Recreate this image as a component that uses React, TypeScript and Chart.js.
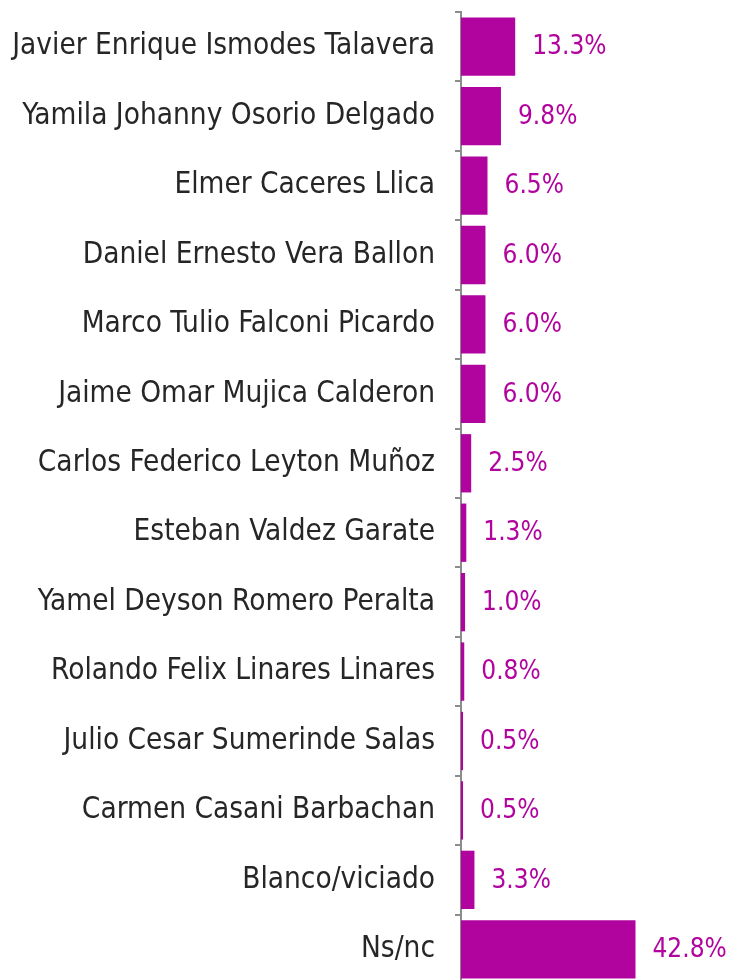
import React, { useEffect, useRef } from "react";
import { Chart, registerables } from "chart.js";

Chart.register(...registerables);

const categories = [
  "Javier Enrique Ismodes Talavera",
  "Yamila Johanny Osorio Delgado",
  "Elmer Caceres Llica",
  "Daniel Ernesto Vera Ballon",
  "Marco Tulio Falconi Picardo",
  "Jaime Omar Mujica Calderon",
  "Carlos Federico Leyton Muñoz",
  "Esteban Valdez Garate",
  "Yamel Deyson Romero Peralta",
  "Rolando Felix Linares Linares",
  "Julio Cesar Sumerinde Salas",
  "Carmen Casani Barbachan",
  "Blanco/viciado",
  "Ns/nc",
];

const values = [13.3, 9.8, 6.5, 6.0, 6.0, 6.0, 2.5, 1.3, 1.0, 0.8, 0.5, 0.5, 3.3, 42.8];

const BAR_COLOR = "#B1049F";
const FONT = "'DejaVu Sans Condensed', 'DejaVu Sans', sans-serif";

const valueLabels = {
  id: "valueLabels",
  afterDatasetsDraw(chart: any) {
    const ctx = chart.ctx;
    const meta = chart.getDatasetMeta(0);
    ctx.save();
    ctx.fillStyle = BAR_COLOR;
    ctx.font = `26px ${FONT}`;
    ctx.textAlign = "left";
    ctx.textBaseline = "middle";
    meta.data.forEach((bar: any, i: number) => {
      ctx.fillText(values[i].toFixed(1) + "%", bar.x + 17, bar.y + 1);
    });
    ctx.restore();
  },
};

export default function App() {
  const ref = useRef<HTMLCanvasElement>(null);
  useEffect(() => {
    if (!ref.current) return;
    const chart = new Chart(ref.current, {
      type: "bar",
      data: {
        labels: categories,
        datasets: [
          {
            data: values,
            backgroundColor: BAR_COLOR,
            categoryPercentage: 0.84,
            barPercentage: 1,
          },
        ],
      },
      options: {
        indexAxis: "y",
        animation: false,
        responsive: false,
        maintainAspectRatio: false,
        layout: { padding: { top: 12, bottom: 6, left: 0, right: 4 } },
        plugins: {
          legend: { display: false },
          tooltip: { enabled: false },
        },
        scales: {
          x: {
            display: false,
            min: 0,
            max: 65,
          },
          y: {
            afterFit(scale: any) {
              scale.width = 461;
              scale.paddingTop = 0;
              scale.paddingBottom = 0;
            },
            border: { display: true, color: "#8C8C8C", width: 2 },
            grid: {
              display: true,
              drawOnChartArea: false,
              drawTicks: true,
              tickLength: 6,
              color: "#8C8C8C",
              lineWidth: 2,
              offset: true,
            },
            ticks: {
              color: "#262626",
              padding: 20,
              font: { family: FONT, size: 29.5 },
            },
          },
        },
      },
      plugins: [valueLabels],
    });
    return () => chart.destroy();
  }, []);
  return (
    <div style={{ position: "absolute", left: 0, top: 0, width: 730, height: 990 }}>
      <canvas ref={ref} width={730} height={990} style={{ width: 730, height: 990 }} />
    </div>
  );
}
